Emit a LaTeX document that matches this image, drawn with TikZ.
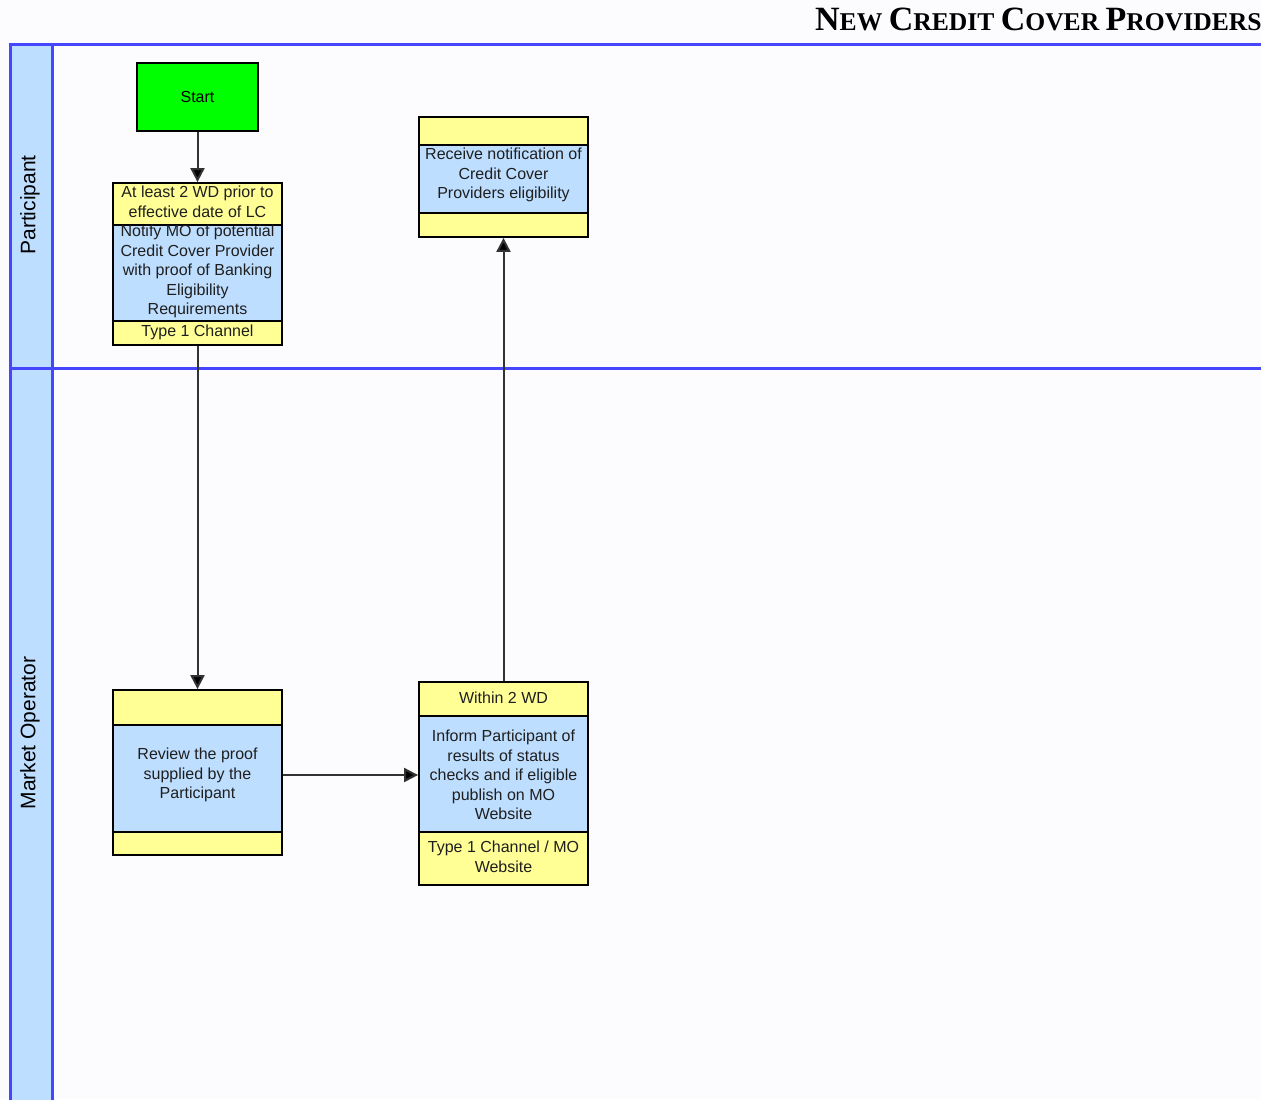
\documentclass[tikz,border=0pt]{standalone}
\usepackage{fontspec}
\setmainfont{Liberation Sans}
\newfontfamily\titlefont{Liberation Serif}
\usetikzlibrary{fit,arrows.meta}
\definecolor{laneblue}{RGB}{70,70,255}
\definecolor{lanefill}{RGB}{190,222,255}
\definecolor{boxblue}{RGB}{190,222,255}
\definecolor{boxyellow}{RGB}{255,255,150}
\definecolor{startgreen}{RGB}{0,255,0}
\definecolor{linkgray}{RGB}{50,50,50}
\tikzset{
  lane/.style={draw=laneblue, line width=1.5pt},
  sec/.style={draw=black, line width=0.9pt},
  ysec/.style={sec, fill=boxyellow},
  bsec/.style={sec, fill=boxblue},
  txt/.style={align=center, inner sep=0pt, font=\fontsize{8}{9.75}\selectfont, text=black!88},
  whole/.style={inner sep=0pt, draw=black, line width=0.9pt},
  link/.style={draw=linkgray, line width=1pt, -{Triangle[length=7pt,width=7pt,fill=black]}},
  lanelabel/.style={rotate=90, font=\fontsize{10.5}{12}\selectfont, inner sep=0pt}
}
\begin{document}
\begin{tikzpicture}[x=0.5pt,y=-0.5pt]
\useasboundingbox (0,0) rectangle (1261,1099);
\fill[white!99!blue] (0,0) rectangle (1261,1099);
% title
\node[anchor=base east, inner sep=0pt, font=\titlefont\bfseries] (title) at (1262,30)
  {{\fontsize{17}{18}\selectfont N}{\fontsize{12.8}{14}\selectfont EW }{\fontsize{17}{18}\selectfont C}{\fontsize{12.8}{14}\selectfont REDIT }{\fontsize{17}{18}\selectfont C}{\fontsize{12.8}{14}\selectfont OVER }{\fontsize{17}{18}\selectfont P}{\fontsize{12.8}{14}\selectfont ROVIDERS}};
% lanes
\fill[lanefill] (10,44) rectangle (52,1100);
\draw[lane] (10,1100) -- (10,44) -- (1262,44);
\draw[lane] (52,44) -- (52,1100);
\draw[lane] (10,368) -- (1262,368);
\node[lanelabel] (lp) at (30,205) {Participant};
\node[lanelabel] (lm) at (30,733) {Market Operator};
% start
\node[draw=black, line width=0.9pt, fill=startgreen, minimum width=60.5pt, minimum height=34pt, inner sep=0pt, font=\fontsize{8}{9.75}\selectfont] (start) at (197.5,97) {Start};
% box 1
\draw[ysec] (113,183) rectangle (282,225);
\draw[bsec] (113,225) rectangle (282,321);
\draw[ysec] (113,321) rectangle (282,345);
\node[whole, fit={(113,183)(282,345)}] (b1) {};
\node[txt] (b1t) at (197.5,202) {At least 2 WD prior to\\effective date of LC};
\node[txt] (b1m) at (197.5,271.5) {Notify MO of potential\\Credit Cover Provider\\with proof of Banking\\Eligibility\\Requirements};
\node[txt] (b1b) at (197.5,332.5) {Type 1 Channel};
% box 2
\draw[ysec] (419,117) rectangle (588,145);
\draw[bsec] (419,145) rectangle (588,213);
\draw[ysec] (419,213) rectangle (588,237);
\node[whole, fit={(419,117)(588,237)}] (b2) {};
\node[txt] (b2m) at (503.5,175) {Receive notification of\\Credit Cover\\Providers eligibility};
% box 3
\draw[ysec] (113,690) rectangle (282,725);
\draw[bsec] (113,725) rectangle (282,832);
\draw[ysec] (113,832) rectangle (282,855);
\node[whole, fit={(113,690)(282,855)}] (b3) {};
\node[txt] (b3m) at (197.5,775) {Review the proof\\supplied by the\\Participant};
% box 4
\draw[ysec] (419,682) rectangle (588,716);
\draw[bsec] (419,716) rectangle (588,832);
\draw[ysec] (419,832) rectangle (588,885);
\node[whole, fit={(419,682)(588,885)}] (b4) {};
\node[txt] (b4t) at (503.5,697.5) {Within 2 WD};
\node[txt] (b4m) at (503.5,775) {Inform Participant of\\results of status\\checks and if eligible\\publish on MO\\Website};
\node[txt] (b4b) at (503.5,857) {Type 1 Channel / MO\\Website};
% connectors
\draw[link] (start.south) -- (b1.north);
\draw[link] (b1.south) -- (b3.north);
\draw[link] ([yshift=-1.25pt]b3.east) -- ([yshift=-1.25pt]b3.east -| b4.west);
\draw[link] (b4.north) -- (b2.south);
\end{tikzpicture}
\end{document}
